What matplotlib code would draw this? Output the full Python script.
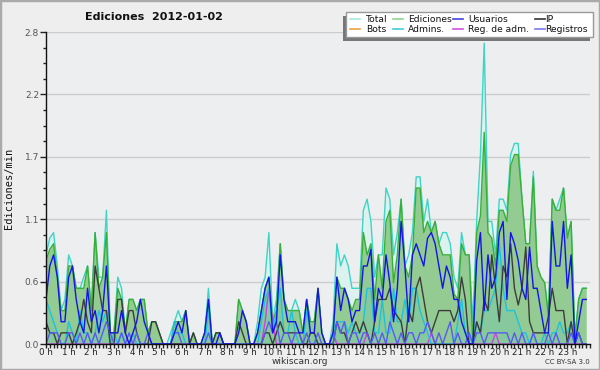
import matplotlib
matplotlib.use("Agg")
import matplotlib.pyplot as plt
import numpy as np
from matplotlib.lines import Line2D
from matplotlib.patches import Rectangle
from matplotlib.ticker import MultipleLocator

# ---- data (edits per minute, 10-minute bins) ----
hour_labels = [f"{h} h" for h in range(24)]

total = [
    0.8, 0.95, 1.0, 0.7, 0.3, 0.4,
    0.8, 0.7, 0.5, 0.5, 0.6, 0.7,
    0.3, 1.0, 0.6, 0.6, 1.2, 0.1,
    0.1, 0.6, 0.5, 0.1, 0.4, 0.4,
    0.3, 0.4, 0.4, 0.1, 0.2, 0.2,
    0.1, 0, 0, 0.1, 0.2, 0.3,
    0.2, 0.3, 0, 0.1, 0, 0,
    0.1, 0.5, 0, 0.1, 0.1, 0,
    0, 0, 0, 0.4, 0.3, 0.2,
    0, 0, 0.2, 0.5, 0.6, 1.0,
    0.2, 0.4, 0.9, 0.4, 0.3, 0.3,
    0.4, 0.3, 0.1, 0.4, 0.2, 0.2,
    0.5, 0.1, 0, 0, 0.2, 0.9,
    0.7, 0.8, 0.7, 0.5, 0.5, 0.5,
    1.2, 1.3, 1.1, 0.6, 0.8, 0.8,
    1.4, 1.3, 0.8, 1.0, 1.3, 0.7,
    0.8, 1.0, 1.5, 1.5, 1.1, 1.3,
    1.0, 1.1, 0.9, 1.0, 1.0, 0.9,
    0.6, 0.5, 1.0, 0.8, 0.8, 0.2,
    1.1, 1.7, 2.7, 1.1, 1.1, 0.8,
    1.3, 1.3, 1.2, 1.7, 1.8, 1.8,
    1.3, 0.9, 0.9, 1.55, 0.7, 0.6,
    0.55, 0.25, 1.3, 1.2, 1.3, 1.4,
    0.95, 1.1, 0.05, 0.4, 0.5, 0.5,
]

ediciones = [
    0.75, 0.85, 0.9, 0.6, 0.3, 0.3,
    0.7, 0.7, 0.5, 0.5, 0.5, 0.7,
    0.3, 1.0, 0.5, 0.6, 1.0, 0.1,
    0.1, 0.5, 0.4, 0.1, 0.4, 0.4,
    0.3, 0.4, 0.4, 0.1, 0.2, 0.2,
    0.1, 0, 0, 0, 0.2, 0.2,
    0.2, 0.3, 0, 0.1, 0, 0,
    0.1, 0.4, 0, 0.1, 0.1, 0,
    0, 0, 0, 0.4, 0.3, 0.2,
    0, 0, 0.1, 0.3, 0.5, 0.6,
    0.2, 0.3, 0.9, 0.4, 0.3, 0.3,
    0.3, 0.3, 0.1, 0.4, 0.2, 0.2,
    0.5, 0.1, 0, 0, 0.1, 0.6,
    0.5, 0.5, 0.4, 0.3, 0.4, 0.4,
    1.0, 0.8, 0.9, 0.4, 0.8, 0.5,
    1.1, 1.2, 0.55, 0.8, 1.3, 0.7,
    0.6, 0.8, 1.4, 1.4, 1.0, 1.1,
    1.0, 1.1, 0.9, 0.8, 0.8, 0.8,
    0.45, 0.4, 0.9, 0.8, 0.8, 0,
    1.0, 1.15, 1.9, 1.0, 0.95, 0.7,
    1.2, 1.2, 1.1, 1.6, 1.7, 1.7,
    1.3, 0.9, 0.9, 1.5, 0.7, 0.6,
    0.55, 0.25, 1.3, 1.2, 1.2, 1.4,
    0.95, 1.1, 0.05, 0.4, 0.5, 0.5,
]

usuarios = [
    0.4, 0.7, 0.8, 0.6, 0.2, 0.2,
    0.6, 0.7, 0.4, 0.2, 0.1, 0.5,
    0.2, 0.3, 0.1, 0.3, 0.7, 0.1,
    0.1, 0.1, 0.3, 0.1, 0.0, 0.1,
    0.2, 0.4, 0.2, 0.1, 0.0, 0,
    0, 0, 0, 0, 0.1, 0.2,
    0.1, 0.3, 0, 0, 0, 0,
    0.1, 0.4, 0, 0, 0.1, 0,
    0, 0, 0, 0.1, 0.3, 0.2,
    0, 0, 0.1, 0.3, 0.5, 0.6,
    0.1, 0.2, 0.8, 0.4, 0.2, 0.2,
    0.2, 0.1, 0.1, 0.4, 0.1, 0.1,
    0.5, 0.1, 0, 0, 0.1, 0.6,
    0.3, 0.5, 0.4, 0.2, 0.3, 0.3,
    0.7, 0.7, 0.85, 0.2, 0.5, 0.4,
    0.8, 0.55, 0.2, 0.5, 1.1, 0.7,
    0.2, 0.8, 0.9, 0.8, 0.7, 0.95,
    1.0, 0.9, 0.7, 0.5, 0.7, 0.6,
    0.4, 0.4, 0.2, 0.1, 0.0, 0.0,
    0.75, 1.0, 0.3, 0.8, 0.5, 0.6,
    1.0, 1.1, 0.4, 1.0, 0.9, 0.75,
    0.5, 0.4, 0.87, 0.5, 0.5, 0.3,
    0.1, 0.1, 1.1, 0.7, 0.7, 1.1,
    0.5, 0.8, 0.0, 0.2, 0.4, 0.4,
]

ip = [
    0.2, 0.1, 0.1, 0.0, 0.1, 0.1,
    0.1, 0.0, 0.1, 0.2, 0.4, 0.2,
    0.1, 0.7, 0.5, 0.3, 0.3, 0.0,
    0.0, 0.4, 0.4, 0.1, 0.3, 0.3,
    0.1, 0.0, 0.0, 0.0, 0.2, 0.2,
    0.1, 0, 0, 0, 0, 0,
    0, 0, 0, 0.1, 0, 0,
    0, 0, 0, 0.1, 0.1, 0,
    0, 0, 0, 0.2, 0.1, 0,
    0, 0, 0, 0, 0.1, 0.1,
    0, 0.1, 0.2, 0.1, 0.1, 0.1,
    0.1, 0.1, 0, 0, 0.1, 0.1,
    0, 0, 0, 0, 0, 0.2,
    0.1, 0.1, 0, 0.1, 0.2, 0.1,
    0.2, 0.1, 0, 0.2, 0.4, 0.4,
    0.4, 0.5, 0.3, 0.25, 0.2, 0,
    0.3, 0.2, 0.5, 0.6, 0.4, 0.2,
    0.1, 0.2, 0.3, 0.3, 0.3, 0.3,
    0.2, 0.3, 0.6, 0.4, 0, 0,
    0.2, 0.1, 0.4, 0.3, 0.8, 0.5,
    0.2, 0.7, 0.6, 0.9, 0.5, 0.35,
    0.5, 0.87, 0.2, 0.1, 0.1, 0.1,
    0.1, 0.25, 0.5, 0.3, 0.3, 0.3,
    0, 0.2, 0, 0.1, 0, 0,
]

admins = [
    0.4, 0.3, 0.2, 0.1, 0.0, 0.0,
    0.2, 0.1, 0.0, 0.3, 0.1, 0.1,
    0.0, 0.1, 0.3, 0.2, 0.3, 0.0,
    0.1, 0.0, 0.1, 0.0, 0.0, 0.1,
    0, 0, 0, 0, 0, 0,
    0, 0, 0, 0, 0.2, 0.1,
    0.1, 0, 0, 0, 0, 0,
    0, 0.3, 0, 0, 0, 0,
    0, 0, 0, 0, 0, 0,
    0, 0, 0, 0.2, 0.4, 0.5,
    0.1, 0.3, 0.5, 0.1, 0.1, 0.3,
    0.1, 0, 0, 0.3, 0.1, 0.1,
    0, 0, 0, 0, 0.1, 0.2,
    0.2, 0.2, 0.1, 0.2, 0.1, 0.1,
    0.2, 0.5, 0.5, 0.1, 0.1, 0.4,
    0.1, 0.1, 0.5, 0.2, 0.2, 0.4,
    0.2, 0.5, 0.5, 0.3, 0.2, 0.1,
    0, 0, 0, 0, 0, 0,
    0, 0.2, 0.4, 0.1, 0.1, 0,
    0.2, 0.1, 0.3, 0.3, 0.4, 0.5,
    0.9, 0.5, 0.3, 0.3, 0.3, 0.2,
    0.1, 0.1, 0, 0.1, 0, 0,
    0.1, 0, 0.1, 0.1, 0.2, 0.1,
    0.1, 0.2, 0, 0.1, 0, 0,
]

registros = [
    0, 0.1, 0.1, 0.1, 0, 0.0,
    0.1, 0.1, 0, 0.1, 0, 0.1,
    0.0, 0.1, 0.0, 0.1, 0.2, 0.1,
    0, 0.0, 0.1, 0.0, 0.1, 0,
    0.1, 0, 0, 0.1, 0, 0,
    0, 0, 0, 0, 0.1, 0.1,
    0, 0, 0, 0, 0, 0,
    0, 0.1, 0, 0, 0, 0,
    0, 0, 0, 0, 0, 0,
    0, 0, 0, 0, 0.1, 0.2,
    0.1, 0.2, 0, 0.1, 0.1, 0,
    0.1, 0.1, 0, 0.1, 0, 0,
    0.1, 0, 0, 0, 0, 0.2,
    0.1, 0.2, 0, 0.1, 0.1, 0,
    0.1, 0.1, 0, 0.1, 0, 0.1,
    0, 0.2, 0.1, 0, 0.1, 0,
    0.1, 0.1, 0, 0.1, 0.1, 0.2,
    0.1, 0, 0.1, 0, 0.1, 0.2,
    0, 0.1, 0, 0, 0.1, 0,
    0.1, 0.1, 0, 0.1, 0.1, 0.1,
    0.1, 0.1, 0.1, 0, 0.1, 0,
    0.1, 0, 0, 0.1, 0, 0,
    0, 0.1, 0, 0.1, 0, 0,
    0, 0.1, 0, 0.1, 0, 0,
]

reg_adm = [
    0, 0, 0, 0, 0, 0,
    0, 0, 0, 0, 0, 0,
    0, 0, 0, 0, 0, 0,
    0, 0, 0, 0, 0, 0,
    0, 0, 0, 0, 0, 0,
    0, 0, 0, 0, 0, 0,
    0, 0, 0, 0, 0, 0,
    0, 0, 0, 0, 0, 0,
    0, 0, 0, 0, 0, 0,
    0, 0, 0, 0, 0.2, 0.5,
    0.2, 0, 0, 0, 0, 0,
    0, 0, 0, 0, 0, 0,
    0, 0, 0, 0, 0.1, 0,
    0, 0, 0, 0, 0, 0,
    0, 0.1, 0, 0, 0, 0,
    0, 0, 0, 0, 0, 0,
    0, 0, 0, 0, 0, 0,
    0.1, 0, 0, 0, 0, 0,
    0, 0, 0, 0, 0, 0,
    0, 0, 0, 0, 0, 0.1,
    0, 0, 0, 0, 0, 0,
    0, 0, 0, 0, 0, 0,
    0, 0, 0, 0, 0, 0,
    0, 0, 0, 0, 0, 0,
]

legend_labels = ["Total", "Bots", "Ediciones", "Admins.",
                 "Usuarios", "Reg. de adm.", "IP", "Registros"]
legend_colors = ["#a6e8e0", "#f0a040", "#8fd48f", "#40cce0",
                 "#4444dd", "#d050e0", "#333333", "#7b7bea"]

# ---- figure ----
W, H = 600, 370
fig = plt.figure(figsize=(W / 100, H / 100), dpi=100, facecolor="#eeeeee")
ax = fig.add_axes([46 / W, 26 / H, 544 / W, 312 / H])
ax.set_facecolor("#edeef0")

t = np.arange(len(total)) / 6.0  # hours

ax.fill_between(t, total, 0, color="#dbf2ee", lw=0, zorder=1)
ax.plot(t, total, color="#3fd4c6", lw=1.0, zorder=2)
ax.fill_between(t, ediciones, 0, color="#93cb93", lw=0, zorder=3)
ax.plot(t, ediciones, color="#36b036", lw=1.0, zorder=4)
ax.fill_between(t, admins, 0, color="#20c0e0", alpha=0.12, lw=0, zorder=4)
ax.plot(t, reg_adm, color="#cc44dd", lw=1.0, zorder=5)
ax.plot(t, admins, color="#1fc2de", lw=1.0, zorder=6)
ax.plot(t, ip, color="#3c3c3c", lw=1.0, zorder=7)
ax.plot(t, registros, color="#5a5af2", lw=1.0, zorder=8)
ax.plot(t, usuarios, color="#1414e6", lw=1.0, zorder=9)

ax.set_xlim(0, 24)
ax.set_ylim(0, 2.8)

yt = np.linspace(0, 2.8, 6)
ax.set_yticks(yt)
ax.set_yticklabels([f"{v:.1f}" for v in yt])
ax.yaxis.set_minor_locator(MultipleLocator(0.14))
ax.set_xticks(np.arange(24))
ax.set_xticklabels(hour_labels)
ax.xaxis.set_minor_locator(MultipleLocator(1 / 6))

ax.tick_params(axis="y", which="major", direction="out", length=4, width=1,
               labelsize=6.5, labelcolor="#555555", pad=1, color="#222222")
ax.tick_params(axis="y", which="minor", direction="out", length=2.5, width=1,
               color="#222222")
ax.tick_params(axis="x", which="both", direction="out", length=3, width=1,
               labelsize=6.3, labelcolor="#222222", pad=0, color="#222222")

ax.grid(axis="y", which="major", color="#cccccc", lw=1)
ax.set_axisbelow(True)
for s in ("top", "right"):
    ax.spines[s].set_visible(False)
for s in ("left", "bottom"):
    ax.spines[s].set_color("#111111")
    ax.spines[s].set_linewidth(1)
    ax.spines[s].set_zorder(10)

# texts
fig.text(154 / W, 1 - 17 / H, "Ediciones  2012-01-02", ha="center", va="center",
         fontsize=8, fontweight="bold", color="#111111")
fig.text(9 / W, 1 - 188 / H, "Ediciones/min", rotation=90, ha="center",
         va="center", fontsize=7.5, family="DejaVu Sans Mono", color="#111111")
fig.text(300 / W, 1 - 362 / H, "wikiscan.org", ha="center", va="center",
         fontsize=6.5, color="#333333")
fig.text(590 / W, 1 - 362.5 / H, "CC BY-SA 3.0", ha="right", va="center",
         fontsize=5, color="#333333")

# legend (frame with offset shadow, entries laid out in 4 columns x 2 rows)
fig.patches.append(Rectangle((343 / W, 1 - 41 / H), 247 / W, 25 / H,
                             transform=fig.transFigure, facecolor="#777777",
                             edgecolor="none", zorder=19))
fig.patches.append(Rectangle((346 / W, 1 - 37 / H), 247 / W, 25 / H,
                             transform=fig.transFigure, facecolor="white",
                             edgecolor="#999999", lw=1, zorder=20))
col_handle_x = [350, 393, 453, 535]
col_text_x = [366, 408, 468, 545]
row_y = [19, 29]
for k, (lab, col) in enumerate(zip(legend_labels, legend_colors)):
    c, r = divmod(k, 2)
    y = 1 - row_y[r] / H
    fig.add_artist(Line2D([col_handle_x[c] / W, (col_handle_x[c] + 10) / W], [y, y],
                          transform=fig.transFigure, color=col, lw=1.2, zorder=21))
    fig.text(col_text_x[c] / W, y, lab, ha="left", va="center", fontsize=6.6,
             color="#111111", zorder=21)

fig.patches.append(Rectangle((0, 0), 1, 1, transform=fig.transFigure, fill=False,
                             edgecolor="#aaaaaa", lw=2.5, zorder=30))

fig.savefig("out.png", dpi=100, facecolor=fig.get_facecolor())
